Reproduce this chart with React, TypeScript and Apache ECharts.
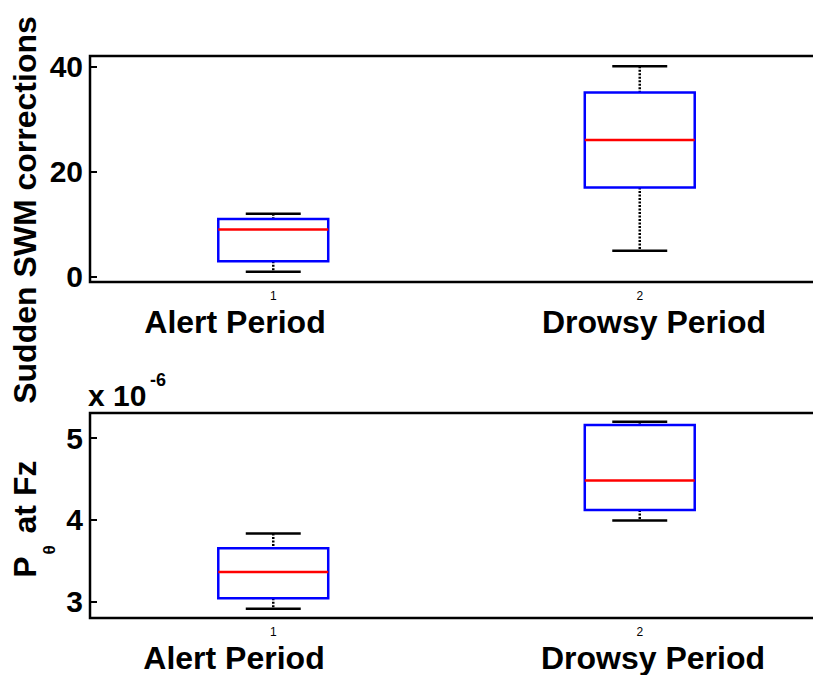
import React, { useEffect, useRef } from "react";
import * as echarts from "echarts";

// Categories and period names
const categories = ["1", "2"];
const periodNames = ["Alert Period", "Drowsy Period"];

// Top panel: Sudden SWM corrections (box statistics per period)
const swmMin = [1, 5];
const swmQ1 = [3, 17];
const swmMedian = [9, 26];
const swmQ3 = [11, 35];
const swmMax = [12, 40];
const swmTicks = [0, 20, 40];

// Bottom panel: P_theta at Fz (x 10^-6)
const pMin = [2.91, 3.99];
const pQ1 = [3.04, 4.12];
const pMedian = [3.36, 4.48];
const pQ3 = [3.65, 5.16];
const pMax = [3.83, 5.2];
const pTicks = [3, 4, 5];

const FONT = "Liberation Sans, Arial, Helvetica, sans-serif";

function buildRows(mn: number[], q1: number[], md: number[], q3: number[], mx: number[]) {
  return categories.map((_, i) => [i, mn[i], q1[i], md[i], q3[i], mx[i]]);
}

function renderBox(params: any, api: any) {
  const x = api.value(0);
  const vMin = api.value(1);
  const vQ1 = api.value(2);
  const vMed = api.value(3);
  const vQ3 = api.value(4);
  const vMax = api.value(5);
  const band = api.size([1, 0])[0];
  const boxW = band * 0.3;
  const capW = boxW / 2;
  const cx = api.coord([x, vMed])[0];
  const yMin = api.coord([x, vMin])[1];
  const yQ1 = api.coord([x, vQ1])[1];
  const yMed = api.coord([x, vMed])[1];
  const yQ3 = api.coord([x, vQ3])[1];
  const yMax = api.coord([x, vMax])[1];
  const dotted = { stroke: "#000", lineWidth: 2.5, lineDash: [2, 1.5] };
  const solid = { stroke: "#000", lineWidth: 2.5 };
  return {
    type: "group",
    children: [
      { type: "line", shape: { x1: cx, y1: yMax, x2: cx, y2: yQ3 }, style: dotted },
      { type: "line", shape: { x1: cx, y1: yQ1, x2: cx, y2: yMin }, style: dotted },
      { type: "line", shape: { x1: cx - capW / 2, y1: yMax, x2: cx + capW / 2, y2: yMax }, style: solid },
      { type: "line", shape: { x1: cx - capW / 2, y1: yMin, x2: cx + capW / 2, y2: yMin }, style: solid },
      {
        type: "rect",
        shape: { x: cx - boxW / 2, y: yQ3, width: boxW, height: yQ1 - yQ3 },
        style: { fill: "none", stroke: "#0000ff", lineWidth: 2.5 },
      },
      {
        type: "line",
        shape: { x1: cx - boxW / 2, y1: yMed, x2: cx + boxW / 2, y2: yMed },
        style: { stroke: "#ff0000", lineWidth: 2.5 },
      },
    ],
  };
}

export default function App() {
  const ref = useRef<HTMLDivElement>(null);

  useEffect(() => {
    document.body.style.margin = "0";
    document.body.style.overflow = "hidden";
    if (!ref.current) return;
    const chart = echarts.init(ref.current, null, { renderer: "svg" });

    const yAxisCommon = {
      type: "value",
      axisLine: { show: false },
      splitLine: { show: false },
      axisTick: { show: true, inside: true, length: 7, lineStyle: { color: "#000", width: 2 } },
      axisLabel: { color: "#000", fontSize: 30, fontWeight: "bold", fontFamily: FONT, margin: 7 },
    };
    const xAxisCommon = {
      type: "category",
      data: categories,
      axisLine: { show: false },
      axisTick: { show: false },
      splitLine: { show: false },
      axisLabel: { color: "#000", fontSize: 12, fontFamily: FONT, margin: 8 },
    };

    const periodText = (i: number, x: number, y: number) => ({
      type: "text",
      x,
      y,
      style: {
        text: periodNames[i],
        font: `bold 32px ${FONT}`,
        fill: "#000",
        textAlign: "center",
        textVerticalAlign: "middle",
      },
    });

    chart.setOption({
      animation: false,
      backgroundColor: "#fff",
      grid: [
        { left: 90, top: 56, width: 733, height: 226, show: true, borderColor: "#000", borderWidth: 2.5, backgroundColor: "transparent" },
        { left: 90, top: 413, width: 733, height: 205, show: true, borderColor: "#000", borderWidth: 2.5, backgroundColor: "transparent" },
      ],
      xAxis: [
        { ...xAxisCommon, gridIndex: 0 },
        { ...xAxisCommon, gridIndex: 1 },
      ],
      yAxis: [
        {
          ...yAxisCommon,
          gridIndex: 0,
          min: -0.95,
          max: 41.95,
          axisTick: { ...yAxisCommon.axisTick, customValues: swmTicks },
          axisLabel: { ...yAxisCommon.axisLabel, customValues: swmTicks },
        },
        {
          ...yAxisCommon,
          gridIndex: 1,
          min: 2.797,
          max: 5.306,
          axisTick: { ...yAxisCommon.axisTick, customValues: pTicks },
          axisLabel: { ...yAxisCommon.axisLabel, customValues: pTicks },
        },
      ],
      series: [
        {
          type: "custom",
          xAxisIndex: 0,
          yAxisIndex: 0,
          renderItem: renderBox,
          encode: { x: 0, y: [1, 2, 3, 4, 5] },
          data: buildRows(swmMin, swmQ1, swmMedian, swmQ3, swmMax),
        },
        {
          type: "custom",
          xAxisIndex: 1,
          yAxisIndex: 1,
          renderItem: renderBox,
          encode: { x: 0, y: [1, 2, 3, 4, 5] },
          data: buildRows(pMin, pQ1, pMedian, pQ3, pMax),
        },
      ],
      graphic: [
        {
          type: "text",
          x: 25,
          y: 210,
          rotation: Math.PI / 2,
          style: {
            text: "Sudden SWM corrections",
            font: `bold 32px ${FONT}`,
            fill: "#000",
            textAlign: "center",
            textVerticalAlign: "middle",
          },
        },
        {
          type: "text",
          x: 25,
          y: 567,
          rotation: Math.PI / 2,
          style: { text: "P", font: `bold 32px ${FONT}`, fill: "#000", textAlign: "center", textVerticalAlign: "middle" },
        },
        {
          type: "text",
          x: 49,
          y: 550,
          rotation: Math.PI / 2,
          style: { text: "θ", font: `bold 17px ${FONT}`, fill: "#000", textAlign: "center", textVerticalAlign: "middle" },
        },
        {
          type: "text",
          x: 25,
          y: 497,
          rotation: Math.PI / 2,
          style: { text: "at Fz", font: `bold 32px ${FONT}`, fill: "#000", textAlign: "center", textVerticalAlign: "middle" },
        },
        {
          type: "text",
          x: 88,
          y: 395,
          style: { text: "x 10", font: `bold 30px ${FONT}`, fill: "#000", textAlign: "left", textVerticalAlign: "middle" },
        },
        {
          type: "text",
          x: 150,
          y: 380,
          style: { text: "-6", font: `bold 18px ${FONT}`, fill: "#000", textAlign: "left", textVerticalAlign: "middle" },
        },
        periodText(0, 235, 322),
        periodText(1, 654, 322),
        periodText(0, 234, 658),
        periodText(1, 653, 658),
      ],
    });

    return () => chart.dispose();
  }, []);

  return <div ref={ref} style={{ width: 840, height: 675 }} />;
}
